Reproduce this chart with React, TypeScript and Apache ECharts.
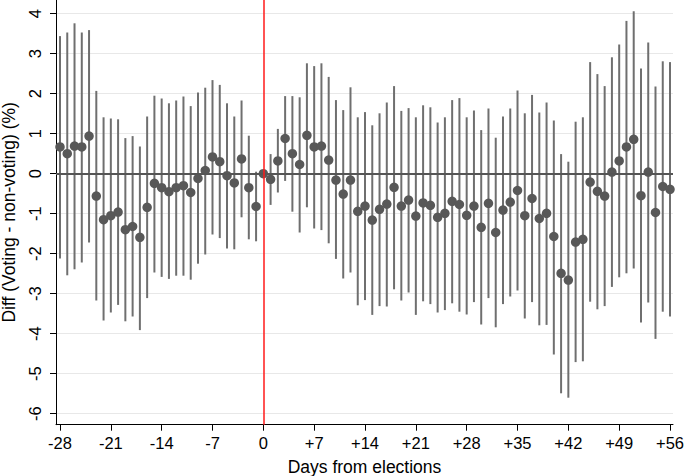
import React, { useEffect, useRef } from "react";
import * as echarts from "echarts";

const days = [
  -28, -27, -26, -25, -24, -23, -22, -21, -20, -19, -18, -17, -16, -15, -14, -13, -12, -11, -10, -9, -8, -7, -6, -5, -4, -3, -2, -1,
  0, 1, 2, 3, 4, 5, 6, 7, 8, 9, 10, 11, 12, 13, 14, 15, 16, 17, 18, 19, 20, 21, 22, 23, 24, 25, 26, 27, 28,
  29, 30, 31, 32, 33, 34, 35, 36, 37, 38, 39, 40, 41, 42, 43, 44, 45, 46, 47, 48, 49, 50, 51, 52, 53, 54, 55, 56,
];

const estimates = [
  0.67, 0.5, 0.69, 0.67, 0.94, -0.56, -1.15, -1.05, -0.96, -1.4, -1.32, -1.59, -0.84, -0.24, -0.35, -0.45, -0.35, -0.3, -0.47, -0.12, 0.08, 0.42, 0.3, -0.05, -0.23, 0.37, -0.35, -0.82,
  0, -0.14, 0.32, 0.88, 0.5, 0.23, 0.96, 0.67, 0.69, 0.34, -0.16, -0.51, -0.16, -0.94, -0.81, -1.16, -0.89, -0.76, -0.34, -0.81, -0.66, -1.06, -0.73, -0.79, -1.09, -0.99, -0.69, -0.77, -1.04,
  -0.81, -1.34, -0.74, -1.47, -0.91, -0.71, -0.42, -1.05, -0.62, -1.12, -0.99, -1.57, -2.49, -2.66, -1.71, -1.64, -0.21, -0.44, -0.56, 0.04, 0.32, 0.67, 0.86, -0.55, 0.04, -0.97, -0.32, -0.39,
];

const lower = [
  -2.12, -2.54, -2.39, -2.22, -1.72, -3.17, -3.67, -3.47, -3.28, -3.69, -3.57, -3.91, -3.11, -2.47, -2.58, -2.63, -2.55, -2.55, -2.65, -2.25, -2.02, -1.52, -1.61, -1.87, -1.89, -1.09, -1.64, -1.69,
  null, -0.78, -0.47, -0.18, -0.95, -1.47, -0.84, -1.37, -1.41, -1.74, -2.13, -2.62, -2.47, -3.29, -3.16, -3.53, -3.31, -3.32, -2.89, -3.17, -2.97, -3.53, -3.19, -3.26, -3.47, -3.41, -3.24, -3.45, -3.52,
  -3.21, -3.77, -3.11, -3.84, -3.26, -3.07, -2.92, -3.62, -3.21, -3.79, -3.78, -4.52, -5.49, -5.6, -4.71, -4.69, -3.2, -3.39, -3.31, -2.83, -2.59, -2.49, -2.37, -3.72, -3.22, -4.13, -3.45, -3.57,
];

const upper = [
  3.44, 3.53, 3.76, 3.53, 3.59, 2.07, 1.41, 1.38, 1.36, 0.89, 0.94, 0.68, 1.43, 1.95, 1.88, 1.76, 1.83, 1.93, 1.69, 2.03, 2.15, 2.34, 2.22, 1.76, 1.43, 1.83, 0.95, 0.05,
  null, 0.49, 1.12, 1.94, 1.94, 1.91, 2.76, 2.69, 2.76, 2.42, 1.84, 1.59, 2.16, 1.41, 1.54, 1.21, 1.51, 1.78, 2.19, 1.57, 1.64, 1.41, 1.71, 1.66, 1.28, 1.41, 1.84, 1.89, 1.41,
  1.58, 1.09, 1.63, 0.9, 1.43, 1.63, 2.08, 1.51, 1.97, 1.53, 1.78, 1.33, 0.49, 0.3, 1.3, 1.41, 2.79, 2.49, 2.19, 2.91, 3.23, 3.82, 4.06, 2.63, 3.28, 2.18, 2.81, 2.79,
];

const xTickValues = [-28, -21, -14, -7, 0, 7, 14, 21, 28, 35, 42, 49, 56];
const xTickLabels = ["-28", "-21", "-14", "-7", "0", "+7", "+14", "+21", "+28", "+35", "+42", "+49", "+56"];
const yTickValues = [-6, -5, -4, -3, -2, -1, 0, 1, 2, 3, 4];

const FONT = "'Liberation Sans', Arial, Helvetica, sans-serif";

export default function App() {
  const ref = useRef<HTMLDivElement>(null);

  useEffect(() => {
    if (!ref.current) return;
    const chart = echarts.init(ref.current, undefined, { renderer: "svg" });

    const ciData = days
      .map((d, i) => [d, lower[i], upper[i]])
      .filter((r) => r[1] !== null && r[2] !== null);
    const pointData = days.map((d, i) => [d, estimates[i]]);

    const labelMap: Record<string, string> = {};
    xTickValues.forEach((v, i) => (labelMap[String(v)] = xTickLabels[i]));

    chart.setOption({
      animation: false,
      backgroundColor: "#ffffff",
      textStyle: { fontFamily: FONT },
      grid: {
        left: 56,
        right: 12,
        top: 0,
        bottom: 51.3,
        containLabel: false,
        outerBoundsMode: "none",
      },
      xAxis: {
        type: "value",
        min: -28.55,
        max: 56.41,
        name: "Days from elections",
        nameLocation: "middle",
        nameGap: 33,
        nameTextStyle: { fontSize: 17.5, color: "#000", fontFamily: FONT },
        axisLine: { show: true, onZero: false, lineStyle: { color: "#000", width: 1 } },
        axisTick: { show: true, length: 6, customValues: xTickValues, lineStyle: { color: "#000", width: 1 } },
        axisLabel: {
          show: true,
          customValues: xTickValues,
          fontSize: 16.5,
          color: "#000",
          fontFamily: FONT,
          margin: 10,
          formatter: (v: number) => labelMap[String(v)] ?? String(v),
        },
        splitLine: { show: false },
      },
      yAxis: {
        type: "value",
        min: -6.275,
        max: 4.3425,
        name: "Diff (Voting - non-voting) (%)",
        nameLocation: "middle",
        nameGap: 37,
        nameRotate: 90,
        nameTextStyle: { fontSize: 17.5, color: "#000", fontFamily: FONT },
        axisLine: { show: true, onZero: false, lineStyle: { color: "#000", width: 1 } },
        axisTick: { show: true, length: 6, customValues: yTickValues, lineStyle: { color: "#000", width: 1 } },
        axisLabel: {
          show: true,
          customValues: yTickValues,
          rotate: 90,
          fontSize: 16.5,
          color: "#000",
          fontFamily: FONT,
          margin: 13,
        },
        splitLine: { show: true, lineStyle: { color: "#e8e8e8", width: 1.2 } },
      },
      series: [
        {
          type: "custom",
          z: 1,
          encode: { x: 0, y: [1, 2] },
          data: ciData,
          renderItem: (params: any, api: any) => {
            const x = api.value(0);
            const p1 = api.coord([x, api.value(1)]);
            const p2 = api.coord([x, api.value(2)]);
            return {
              type: "line",
              shape: { x1: p1[0], y1: p1[1], x2: p2[0], y2: p2[1] },
              style: { stroke: "#6f6f6f", lineWidth: 2 },
            };
          },
        },
        {
          type: "scatter",
          z: 2,
          data: [],
          silent: true,
          markLine: {
            silent: true,
            symbol: "none",
            label: { show: false },
            animation: false,
            data: [
              { yAxis: 0, lineStyle: { color: "#555555", width: 2, type: "solid" } },
              { xAxis: 0, lineStyle: { color: "#ff1a1a", width: 1.5, type: "solid" } },
            ],
          },
        },
        {
          type: "scatter",
          z: 3,
          symbol: "circle",
          symbolSize: 9.5,
          itemStyle: { color: "#585858", opacity: 1 },
          data: pointData,
        },
      ],
    });

    return () => chart.dispose();
  }, []);

  return (
    <div
      ref={ref}
      style={{ position: "fixed", left: 0, top: 0, width: 685, height: 476, background: "#fff" }}
    />
  );
}
